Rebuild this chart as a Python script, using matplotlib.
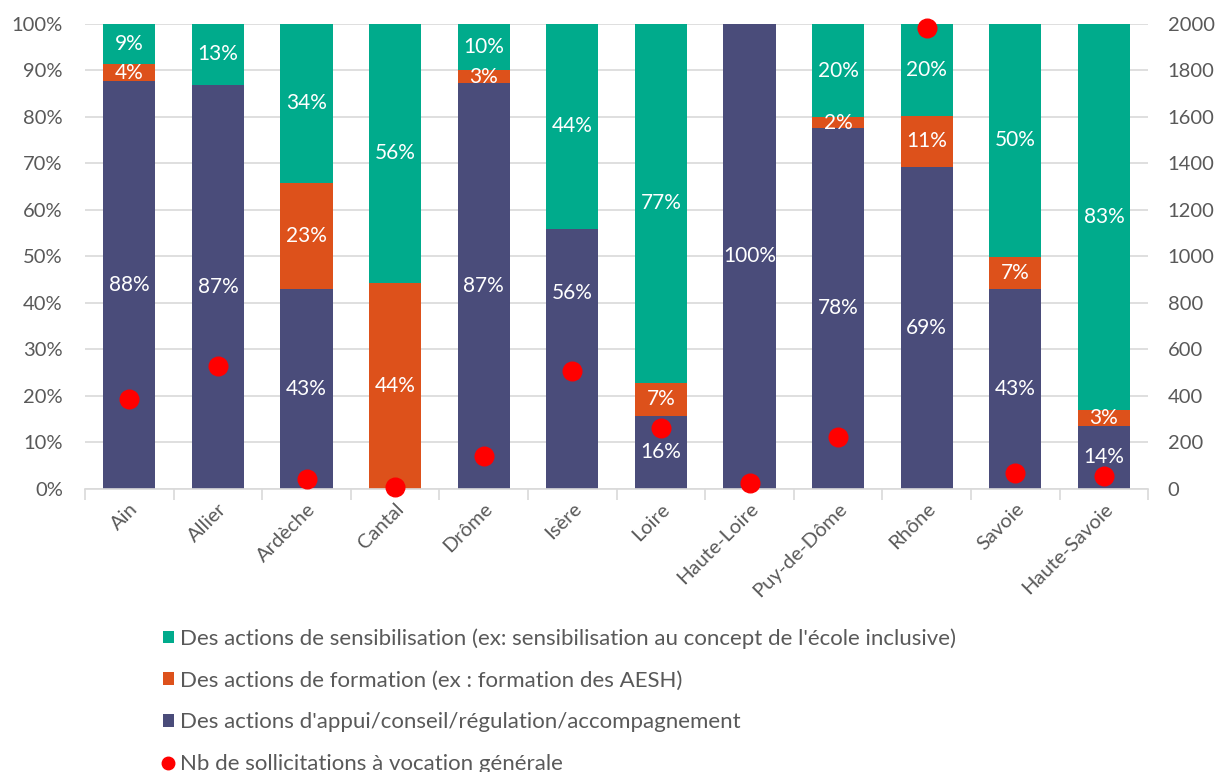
import matplotlib.pyplot as plt
import numpy as np
from matplotlib.lines import Line2D
from matplotlib.patches import Patch
from matplotlib.ticker import PercentFormatter

plt.rcParams['font.family'] = ['Lato', 'DejaVu Sans']

# Data (percent of actions, and number of requests)
departements = ['Ain', 'Allier', 'Ardèche', 'Cantal', 'Drôme', 'Isère', 'Loire',
                'Haute-Loire', 'Puy-de-Dôme', 'Rhône', 'Savoie', 'Haute-Savoie']
appui = [87.7, 86.9, 43.1, 0.0, 87.2, 56.0, 15.7, 100.0, 77.7, 69.2, 42.9, 13.6]
formation = [3.7, 0.0, 22.7, 44.4, 2.8, 0.0, 7.1, 0.0, 2.2, 11.1, 7.0, 3.4]
sensibilisation = [8.6, 13.1, 34.2, 55.6, 10.0, 44.0, 77.2, 0.0, 20.1, 19.7, 50.1, 83.0]
sollicitations = [385, 530, 45, 8, 141, 508, 264, 26, 224, 1983, 70, 57]

c_appui = '#4A4C7A'
c_form = '#DD511B'
c_sens = '#00AB8C'
grey = '#595959'

fig = plt.figure(figsize=(12.22, 7.72), dpi=100)
ax = fig.add_axes([0.0696, 0.3666, 0.8700, 0.6024])
x = np.arange(len(departements))
w = 0.59

appui = np.array(appui)
formation = np.array(formation)
sensibilisation = np.array(sensibilisation)

ax.bar(x, appui, w, color=c_appui, zorder=2)
ax.bar(x, formation, w, bottom=appui, color=c_form, zorder=2)
ax.bar(x, sensibilisation, w, bottom=appui + formation, color=c_sens, zorder=2)

# labels in segments (the Isère label was moved up in the original)
moved = {(0, 'Isère'): 42.2}
segments = [(appui, np.zeros(len(x))), (formation, appui), (sensibilisation, appui + formation)]
for k, (vals, base) in enumerate(segments):
    for i, (v, b) in enumerate(zip(vals, base)):
        if v > 0:
            y = moved.get((k, departements[i]), b + v / 2)
            ax.text(x[i], y, f'{round(v):.0f}%', ha='center', va='center',
                    color='white', fontsize=15, zorder=4)

ax.set_ylim(0, 100)
ax.set_xlim(-0.5, len(x) - 0.5)
ax.set_yticks(np.arange(0, 101, 10))
ax.yaxis.set_major_formatter(PercentFormatter(decimals=0))
ax.grid(axis='y', color='#D9D9D9', linewidth=1.2, zorder=0)
ax.set_axisbelow(True)
for s in ['top', 'right', 'left']:
    ax.spines[s].set_visible(False)
ax.spines['bottom'].set_color('#D9D9D9')
ax.spines['bottom'].set_linewidth(1.2)

ax.set_xticks(x)
ax.set_xticklabels(departements, rotation=45, ha='right', rotation_mode='anchor',
                   fontsize=14.5, color=grey)
ax.tick_params(axis='x', length=0, pad=8)
ax.set_xticks(np.arange(-0.5, len(x), 1), minor=True)
ax.tick_params(axis='x', which='minor', length=8, color='#D9D9D9', width=1.2)
ax.tick_params(axis='y', length=0, labelsize=14.5, labelcolor=grey, pad=16)

ax2 = ax.twinx()
ax2.scatter(x, sollicitations, s=180, color='#FF0000', zorder=5, clip_on=False)
ax2.set_ylim(0, 2000)
ax2.set_yticks(np.arange(0, 2001, 200))
for s in ['top', 'right', 'left', 'bottom']:
    ax2.spines[s].set_visible(False)
ax2.tick_params(axis='y', length=0, labelsize=14.5, labelcolor=grey, pad=14)

handles = [
    Patch(facecolor=c_sens, label="Des actions de sensibilisation (ex: sensibilisation au concept de l'école inclusive)"),
    Patch(facecolor=c_form, label='Des actions de formation (ex : formation des AESH)'),
    Patch(facecolor=c_appui, label="Des actions d'appui/conseil/régulation/accompagnement"),
    Line2D([], [], marker='o', color='#FF0000', linestyle='none', markersize=9,
           label='Nb de sollicitations à vocation générale'),
]
leg = fig.legend(handles=handles, loc='upper left', bbox_to_anchor=(0.133, 0.186),
                 frameon=False, fontsize=16, labelspacing=0.97, handlelength=0.5,
                 handleheight=0.5, handletextpad=0.3, borderaxespad=0, borderpad=0)
for t in leg.get_texts():
    t.set_color(grey)

fig.savefig('out.png', dpi=100)
